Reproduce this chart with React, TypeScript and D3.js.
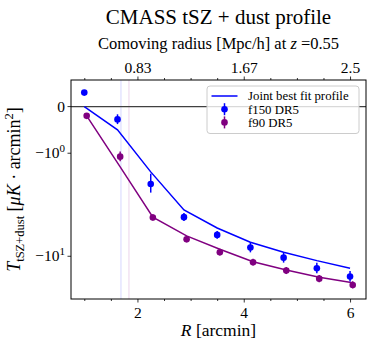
import React, { useRef, useEffect } from "react";
import * as d3 from "d3";

// radial bins (arcmin); f90 is drawn with a small offset
const radiusF150 = [1.0, 1.625, 2.25, 2.875, 3.5, 4.125, 4.75, 5.375, 6.0];
const radiusF90 = [1.045, 1.675, 2.29, 2.925, 3.55, 4.175, 4.8, 5.42, 6.05];

// measured profiles (uK arcmin^2)
const f150 = [0.22, -0.2, -2.27, -4.67, -6.65, -8.49, -10.26, -12.5, -14.58];
const f150Err = [0.02, 0.085, 0.5, 0.38, 0.5, 0.8, 1.0, 1.2, 1.4];
const f90 = [-0.14, -1.11, -4.71, -7.23, -9.26, -11.17, -13.06, -15.13, -16.98];
const f90Err = [0.02, 0.16, 0.3, 0.45, 0.6, 0.7, 0.85, 1.0, 1.1];

// joint best fit evaluated at each bin
const fitF150 = [0.0, -0.4, -1.69, -4.02, -5.8, -7.66, -9.26, -10.85, -12.5];
const fitF90 = [-0.14, -1.48, -4.67, -6.78, -8.75, -11.06, -12.9, -14.75, -16.28];

// beam size markers (arcmin)
const beamF150 = 1.69;
const beamF90 = 1.84;

const xMajor = [2, 4, 6];
const xMinor = [1, 1.5, 2.5, 3, 3.5, 4.5, 5, 5.5];
const topLabels = ["0.83", "1.67", "2.5"];
const yTicks = [0, -1, -10];

const W = 374;
const H = 349;
const plot = { left: 71, right: 366, top: 80, bottom: 299 };
const FONT = "Liberation Serif";

function ProfileChart() {
  const svgRef = useRef<SVGSVGElement>(null);

  useEffect(() => {
    const svg = d3.select(svgRef.current);
    svg.selectAll("*").remove();

    const x = d3.scaleLinear().domain([0.75, 6.3]).range([plot.left, plot.right]);
    const y = d3
      .scaleSymlog()
      .constant(0.8)
      .domain([0.47, -21.9])
      .range([plot.top, plot.bottom]);

    svg.append("rect").attr("width", W).attr("height", H).attr("fill", "white");

    svg
      .append("clipPath")
      .attr("id", "plotclip")
      .append("rect")
      .attr("x", plot.left)
      .attr("y", plot.top)
      .attr("width", plot.right - plot.left)
      .attr("height", plot.bottom - plot.top);

    const g = svg.append("g").attr("clip-path", "url(#plotclip)");

    // beam lines
    [
      [beamF150, "#e4e4ff"],
      [beamF90, "#f2e2f2"],
    ].forEach(([b, c]) => {
      g.append("line")
        .attr("x1", x(b as number))
        .attr("x2", x(b as number))
        .attr("y1", plot.top)
        .attr("y2", plot.bottom)
        .attr("stroke", c as string)
        .attr("stroke-width", 1.5);
    });

    // zero line
    g.append("line")
      .attr("x1", plot.left)
      .attr("x2", plot.right)
      .attr("y1", y(0))
      .attr("y2", y(0))
      .attr("stroke", "#404040")
      .attr("stroke-width", 1.3);

    const line = d3
      .line<[number, number]>()
      .x((d) => x(d[0]))
      .y((d) => y(d[1]));

    const series = [
      { r: radiusF150, v: f150, e: f150Err, fit: fitF150, color: "#0000ff" },
      { r: radiusF90, v: f90, e: f90Err, fit: fitF90, color: "#800080" },
    ];

    series.forEach((s) => {
      g.append("path")
        .attr("d", line(s.r.map((r, i) => [r, s.fit[i]])))
        .attr("fill", "none")
        .attr("stroke", s.color)
        .attr("stroke-width", 1.5);
    });

    series.forEach((s) => {
      g.selectAll(null)
        .data(s.v)
        .join("line")
        .attr("x1", (d, i) => x(s.r[i]))
        .attr("x2", (d, i) => x(s.r[i]))
        .attr("y1", (d, i) => y(d + s.e[i]))
        .attr("y2", (d, i) => y(d - s.e[i]))
        .attr("stroke", s.color)
        .attr("stroke-width", 1.5);
      g.selectAll(null)
        .data(s.v)
        .join("circle")
        .attr("cx", (d, i) => x(s.r[i]))
        .attr("cy", (d) => y(d))
        .attr("r", 3.3)
        .attr("fill", s.color);
    });

    // frame
    svg
      .append("rect")
      .attr("x", plot.left)
      .attr("y", plot.top)
      .attr("width", plot.right - plot.left)
      .attr("height", plot.bottom - plot.top)
      .attr("fill", "none")
      .attr("stroke", "#000")
      .attr("stroke-width", 1);

    const styleAxis = (ax: any) => {
      ax.attr("font-family", FONT);
      ax.select(".domain").remove();
      ax.selectAll("line").attr("stroke", "#000").attr("stroke-width", 0.8);
      ax.selectAll("text").attr("font-family", FONT).attr("font-size", 15.5).attr("fill", "#000");
    };

    // bottom axis
    const bottom = svg
      .append("g")
      .attr("transform", `translate(0,${plot.bottom})`)
      .call(d3.axisBottom(x).tickValues(xMajor).tickSize(3.5).tickPadding(4).tickFormat(d3.format("d")));
    styleAxis(bottom);
    const bottomMinor = svg
      .append("g")
      .attr("transform", `translate(0,${plot.bottom})`)
      .call(d3.axisBottom(x).tickValues(xMinor).tickSize(2).tickFormat(() => ""));
    styleAxis(bottomMinor);

    // top axis (comoving radius)
    const top = svg
      .append("g")
      .attr("transform", `translate(0,${plot.top})`)
      .call(
        d3
          .axisTop(x)
          .tickValues(xMajor)
          .tickSize(3.5)
          .tickPadding(4)
          .tickFormat((d, i) => topLabels[i])
      );
    styleAxis(top);
    const topMinor = svg
      .append("g")
      .attr("transform", `translate(0,${plot.top})`)
      .call(d3.axisTop(x).tickValues(xMinor).tickSize(2).tickFormat(() => ""));
    styleAxis(topMinor);

    // left axis, symlog labels
    const left = svg.append("g");
    yTicks.forEach((t) => {
      left
        .append("line")
        .attr("x1", plot.left - 3.5)
        .attr("x2", plot.left)
        .attr("y1", y(t))
        .attr("y2", y(t))
        .attr("stroke", "#000")
        .attr("stroke-width", 0.8);
      const txt = left
        .append("text")
        .attr("x", plot.left - 6)
        .attr("y", y(t) + 5)
        .attr("text-anchor", "end")
        .attr("font-family", FONT)
        .attr("font-size", 15.5);
      if (t === 0) {
        txt.text("0");
      } else {
        txt.append("tspan").text("\u221210");
        txt
          .append("tspan")
          .attr("dy", -6)
          .attr("font-size", 11)
          .text(String(Math.round(Math.log10(-t))));
      }
    });

    // titles
    svg
      .append("text")
      .attr("x", (plot.left + plot.right) / 2)
      .attr("y", 24)
      .attr("text-anchor", "middle")
      .attr("font-family", FONT)
      .attr("font-size", 21)
      .text("CMASS tSZ + dust profile");

    const topLab = svg
      .append("text")
      .attr("x", (plot.left + plot.right) / 2)
      .attr("y", 49)
      .attr("text-anchor", "middle")
      .attr("font-family", FONT)
      .attr("font-size", 16.5);
    topLab.append("tspan").text("Comoving radius [Mpc/h] at ");
    topLab.append("tspan").attr("font-style", "italic").text("z");
    topLab.append("tspan").text(" =0.55");

    const xLab = svg
      .append("text")
      .attr("x", (plot.left + plot.right) / 2)
      .attr("y", 336)
      .attr("text-anchor", "middle")
      .attr("font-family", FONT)
      .attr("font-size", 17.5);
    xLab.append("tspan").attr("font-style", "italic").text("R");
    xLab.append("tspan").text(" [arcmin]");

    const yLab = svg
      .append("text")
      .attr("transform", `translate(20,${(plot.top + plot.bottom) / 2}) rotate(-90)`)
      .attr("text-anchor", "middle")
      .attr("font-family", FONT)
      .attr("font-size", 18);
    yLab.append("tspan").attr("font-style", "italic").text("T");
    yLab.append("tspan").attr("dy", 4).attr("font-size", 12.5).text("tSZ+dust");
    yLab.append("tspan").attr("dy", -4).text(" [");
    yLab.append("tspan").attr("font-style", "italic").text("\u03bcK");
    yLab.append("tspan").text(" \u00b7 arcmin");
    yLab.append("tspan").attr("dy", -7).attr("font-size", 12.5).text("2");
    yLab.append("tspan").attr("dy", 7).text("]");

    // legend
    const lg = svg.append("g");
    lg.append("rect")
      .attr("x", 207)
      .attr("y", 86)
      .attr("width", 152)
      .attr("height", 47.5)
      .attr("rx", 3)
      .attr("fill", "white")
      .attr("fill-opacity", 0.8)
      .attr("stroke", "#cccccc")
      .attr("stroke-width", 1);
    const entries = [
      { label: "Joint best fit profile", color: "#0000ff", kind: "line" },
      { label: "f150 DR5", color: "#0000ff", kind: "err" },
      { label: "f90 DR5", color: "#800080", kind: "err" },
    ];
    entries.forEach((e, i) => {
      const cy = 96 + i * 13.2;
      if (e.kind === "line") {
        lg.append("line")
          .attr("x1", 211.5)
          .attr("x2", 237.5)
          .attr("y1", cy)
          .attr("y2", cy)
          .attr("stroke", e.color)
          .attr("stroke-width", 1.5);
      } else {
        lg.append("line")
          .attr("x1", 224.5)
          .attr("x2", 224.5)
          .attr("y1", cy - 6)
          .attr("y2", cy + 6)
          .attr("stroke", e.color)
          .attr("stroke-width", 1.5);
        lg.append("circle").attr("cx", 224.5).attr("cy", cy).attr("r", 3.3).attr("fill", e.color);
      }
      lg.append("text")
        .attr("x", 248)
        .attr("y", cy + 4.3)
        .attr("font-family", FONT)
        .attr("font-size", 12.8)
        .text(e.label);
    });
  }, []);

  return (
    <svg ref={svgRef} width={W} height={H} style={{ display: "block", fontFamily: FONT }}></svg>
  );
}

export default function App() {
  return (
    <div style={{ position: "absolute", left: 0, top: 0 }}>
      <ProfileChart />
    </div>
  );
}
